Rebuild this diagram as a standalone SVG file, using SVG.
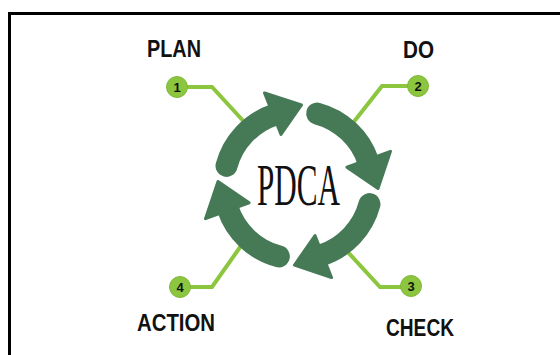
<svg xmlns="http://www.w3.org/2000/svg" width="560" height="355" viewBox="0 0 560 355">
  <style>
    .frame { fill: none; stroke: #000; stroke-width: 3; }
    .band { fill: none; stroke: #467a57; stroke-width: 22; stroke-linecap: round; }
    .head { fill: #467a57; stroke: #467a57; stroke-width: 3; stroke-linejoin: round; }
    .leader { fill: none; stroke: #8cc63f; stroke-width: 4; stroke-linejoin: miter; }
    .badge { fill: #8cc63f; stroke: #7fb838; stroke-width: 1; }
    .num { font-family: "Liberation Sans", Arial, sans-serif; font-weight: bold; font-size: 13px; fill: #111; text-anchor: middle; }
    .label { font-family: "Liberation Sans", Arial, sans-serif; font-weight: bold; font-size: 23px; fill: #111; }
    .title { font-family: "Liberation Serif", "Times New Roman", serif; font-size: 60px; fill: #111; }
  </style>

  <rect width="560" height="355" fill="#fff"/>
  <!-- open frame: top and left edges -->
  <path class="frame" d="M9.5,355 V13.5 H560"/>

  <!-- leader lines from the badges to the cycle -->
  <g id="connectors">
    <path class="leader" d="M177,87 H212 L247,125"/>
    <path class="leader" d="M418,86 H382 L349,128"/>
    <path class="leader" d="M411,287 H380 L345,249"/>
    <path class="leader" d="M180,287 H212 L243,243"/>
  </g>

  <!-- cycle arrows around the centre (298,185) -->
  <g id="arrow-plan">
    <path class="band" d="M226.52,165.85 A74,74 0 0 1 274.5,114.8"/>
    <polygon class="head" points="281,134.5 264.5,93 301.5,105"/>
  </g>
  <g id="arrow-do">
    <path class="band" d="M317.15,113.52 A74,74 0 0 1 368.2,161.5"/>
    <polygon class="head" points="346.9,167.2 390.5,151.3 378,188.5"/>
  </g>
  <g id="arrow-check">
    <path class="band" d="M369.48,204.15 A74,74 0 0 1 321.5,255.2"/>
    <polygon class="head" points="315,235.5 331.5,277.5 294.5,265"/>
  </g>
  <g id="arrow-action">
    <path class="band" d="M278.85,256.48 A74,74 0 0 1 227.8,208.5"/>
    <polygon class="head" points="249.1,202.8 205.5,218.7 218,181.5"/>
  </g>

  <g id="center">
    <text class="title" x="298.5" y="205" text-anchor="middle" textLength="83" lengthAdjust="spacingAndGlyphs">PDCA</text>
  </g>

  <g id="plan">
    <circle class="badge" cx="177" cy="87" r="10.5"/>
    <text class="num" x="177" y="91.5">1</text>
    <text class="label" x="147" y="57" textLength="54" lengthAdjust="spacingAndGlyphs">PLAN</text>
  </g>
  <g id="do">
    <circle class="badge" cx="418" cy="86" r="10.5"/>
    <text class="num" x="418" y="90.5">2</text>
    <text class="label" x="403" y="58" textLength="31" lengthAdjust="spacingAndGlyphs">DO</text>
  </g>
  <g id="check">
    <circle class="badge" cx="411" cy="286" r="10.5"/>
    <text class="num" x="411" y="290.5">3</text>
    <text class="label" x="386" y="336" textLength="68" lengthAdjust="spacingAndGlyphs">CHECK</text>
  </g>
  <g id="action">
    <circle class="badge" cx="180" cy="287" r="10.5"/>
    <text class="num" x="180" y="291.5">4</text>
    <text class="label" x="137" y="331" textLength="78" lengthAdjust="spacingAndGlyphs">ACTION</text>
  </g>
</svg>
